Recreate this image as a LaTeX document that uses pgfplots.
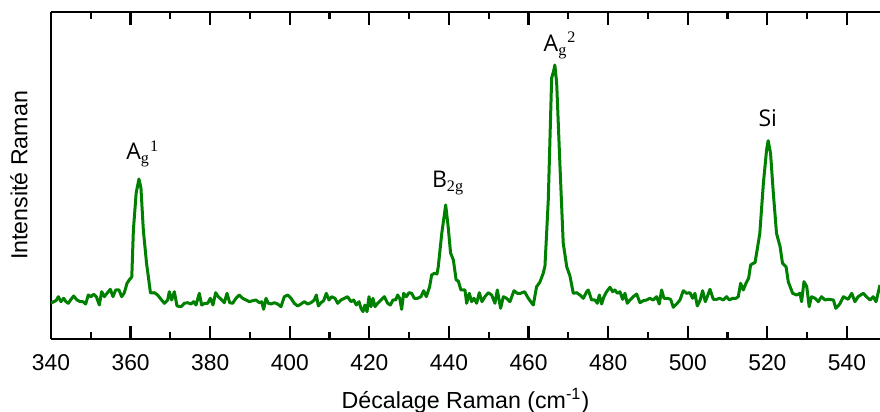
\documentclass[border=0pt]{standalone}
\usepackage{fontspec}
\setmainfont{Liberation Sans}
\newfontfamily\peakfont{Open Sans}
\newfontfamily\serifg{Liberation Serif}
\usepackage{pgfplots}
\pgfplotsset{compat=1.18}
\definecolor{specgreen}{RGB}{0,128,0}
\begin{document}
\begin{tikzpicture}
\begin{axis}[
  at={(0,0)}, anchor=south west,
  scale only axis, width=414.5pt, height=163.5pt,
  xmin=340, xmax=548.3, ymin=0, ymax=327,
  axis x line=box, axis y line=left,
  axis line style={-, line width=1.2pt, black},
  xtick={340,360,...,540}, minor x tick num=1,
  xtick pos=both, xtick align=inside,
  major tick length=6.5pt, minor tick length=3.5pt,
  every tick/.style={black, line width=1.1pt},
  ytick=\empty,
  /pgf/number format/assume math mode=true,
  /pgf/number format/1000 sep={},
  ticklabel style={font=\fontsize{11.4}{13}\selectfont},
  xticklabel style={yshift=-4.1pt},
  xlabel={Décalage Raman (cm\textsuperscript{-1})},
  ylabel={Intensité Raman},
  label style={font=\fontsize{11.6}{13}\selectfont},
  xlabel style={at={(axis description cs:0.5,-0.19)}, anchor=center},
  ylabel style={at={(axis description cs:-0.0386,0.5)}, anchor=center, rotate=0},
  clip=false,
]
\addplot[color=specgreen, line width=1.5pt, line join=round] coordinates {
(340.0,35.7)(340.67,37.3)(341.26,38.3)(341.84,42.3)(342.51,37.3)(343.18,40.7)(343.77,37.3)(344.36,35.7)
(345.03,39.7)(345.70,43.0)(346.53,39)(347.37,37.3)(348.04,37.3)(348.71,35)(349.38,44)(350.05,42.3)
(350.72,44.7)(351.39,42.3)(352.14,34)(352.73,47.3)(353.40,42.3)(354.07,45.7)(354.91,49.7)(355.58,42.3)
(356.25,49)(357.09,49)(357.76,42.3)(358.43,46.3)(359.10,55.7)(359.77,59.7)(360.3,62)(360.7,109)
(361.4,146)(362.1,160)(362.6,151)(363.2,109)(364.0,76)(365.0,46)(365.96,46.3)(366.80,44)
(367.64,39.7)(368.48,35.7)(369.31,39)(369.73,47.3)(370.32,39)(370.99,47.3)(371.66,33)(372.66,32.3)
(373.50,35.7)(374.34,36.3)(375.18,35)(375.85,37.3)(376.43,34)(377.27,45.7)(377.86,34)(378.69,35.7)
(379.36,35.7)(380.03,40.7)(380.70,34)(381.37,46.3)(382.04,42.3)(382.88,39)(383.55,36.3)(384.22,45.7)
(384.89,36.3)(385.65,35.7)(386.48,40.7)(387.32,44)(388.16,40.7)(389.00,39)(389.83,37.3)(390.67,38.3)
(391.51,39)(392.35,36.3)(392.93,37.3)(393.43,29.7)(394.02,40.7)(394.61,35.7)(395.28,35)(396.11,36.3)
(396.95,35)(397.79,32.3)(398.63,42.3)(399.46,44)(400.30,40.7)(401.14,35.7)(401.98,33)(402.81,35)
(403.65,37.3)(404.49,35)(405.33,36.3)(406.16,39)(406.67,44)(407.17,33)(407.84,36.3)(408.51,38.3)
(409.18,45.7)(409.85,39)(410.52,42.3)(411.36,40.7)(412.03,35.7)(412.86,39)(413.70,40.7)(414.54,42.3)
(415.38,37.3)(416.05,39)(416.72,34)(417.39,37.3)(417.89,30.7)(418.39,27.3)(418.89,34)(419.40,27.3)
(419.90,42.3)(420.40,32.3)(420.90,40.7)(421.41,32.3)(422.08,35.7)(422.91,39)(423.75,42.3)(424.59,35.7)
(425.26,34)(425.93,39)(426.60,39)(427.10,44)(427.61,40.7)(428.11,29.7)(428.61,45.7)(429.28,42.3)
(429.95,46.3)(430.62,45.7)(431.29,40.7)(432.13,40.7)(432.96,42.3)(433.63,48.3)(434.31,42.3)(435.14,52.3)
(435.64,64)(436.31,65.7)(436.98,65)(437.3,72)(438.2,106)(439.17,134)(439.8,112)(440.4,86)
(441.1,79)(441.8,59)(442.34,58)(443.0,49)(443.43,49)(444.02,49)(444.44,35.7)(445.1,45.7)
(445.69,37.3)(446.28,40.7)(446.95,35.7)(447.62,46.3)(448.29,37.3)(449.04,42.3)(449.88,46.3)(450.72,44)
(451.55,35.7)(452.14,49)(452.98,30.7)(453.65,42.3)(454.49,40.7)(455.32,37.3)(456.33,48.3)(457.17,45.7)
(458.0,45.7)(459.0,47.3)(459.93,40.7)(461.18,34)(462.02,52.3)(462.86,57)(463.7,66)(464.12,73)
(464.95,139)(465.8,261)(466.3,268)(466.6,274)(467.06,256)(467.9,172)(468.7,96)(469.6,72)
(470.4,63)(471.23,45.7)(472.07,46.3)(472.91,44)(473.75,40.7)(474.59,47.3)(475.0,49)(475.84,39)
(476.68,39)(477.27,35.7)(477.77,44)(478.36,35)(478.94,42.3)(479.61,47.3)(480.45,51.7)(481.12,47.3)
(481.71,49)(482.29,45.7)(482.96,47.3)(483.63,39.7)(484.22,45.7)(484.8,35.7)(485.47,39)(486.31,42.3)
(487.15,45)(487.99,36.3)(488.82,38.3)(489.66,39)(490.5,40.7)(491.34,39)(492.17,42.3)(492.84,35)
(493.43,49)(494.02,40.7)(494.85,40.7)(495.69,39.7)(496.36,31.7)(497.2,35)(498.04,39)(498.87,48.3)
(499.71,45.7)(500.55,46.3)(501.22,40.7)(501.8,45.7)(502.39,33)(503.06,38.3)(503.73,48.3)(504.4,37.3)
(504.9,42.3)(505.57,49.7)(506.41,39.7)(507.25,39.7)(508.09,40.7)(508.92,39)(509.76,42.3)(510.43,39)
(511.27,40.7)(512.11,40.7)(512.69,42.3)(513.28,55.7)(513.95,49)(514.62,55.7)(515.29,60.7)(515.79,74)
(516.46,75.7)(516.9,76.3)(517.7,95.7)(518.1,105.7)(519.0,155.7)(519.8,189)(520.2,198.3)(520.8,185.7)
(521.5,145.7)(522.3,105.7)(523.2,92.3)(523.8,75.7)(524.7,72.3)(525.25,57.3)(526.35,45.7)(527.35,44)
(528.2,45.7)(528.6,37.3)(529.2,57.3)(529.9,52.3)(530.5,32.3)(531.1,42.3)(532.0,40.7)(532.8,37.3)
(533.6,42.3)(534.5,39)(535.3,39.7)(536.6,39)(537.2,30.7)(538.2,35)(539.1,42.3)(540.3,39.7)
(541.2,45.7)(542.0,37.3)(542.8,42.3)(544.1,45.7)(544.9,42.3)(545.8,39)(546.6,42.3)(547.3,37.3)
(548.3,54)
};
\begin{scope}[every node/.style={inner sep=0pt, anchor=base west, font=\peakfont\fontsize{11.5}{13}\selectfont}]
\node at (axis cs:358.85,179) {A\textsubscript{\serifg g}\textsuperscript{\serifg 1}};
\node at (axis cs:435.65,151) {B\textsubscript{\serifg 2g}};
\node at (axis cs:463.7,287.3) {A\textsubscript{\serifg g}\textsuperscript{\serifg 2}};
\node at (axis cs:517.7,212.3) {Si};
\end{scope}
\end{axis}
\pgfresetboundingbox
\useasboundingbox (-25.5pt,-36.5pt) rectangle (414.5pt,169.5pt);
\end{tikzpicture}
\end{document}
